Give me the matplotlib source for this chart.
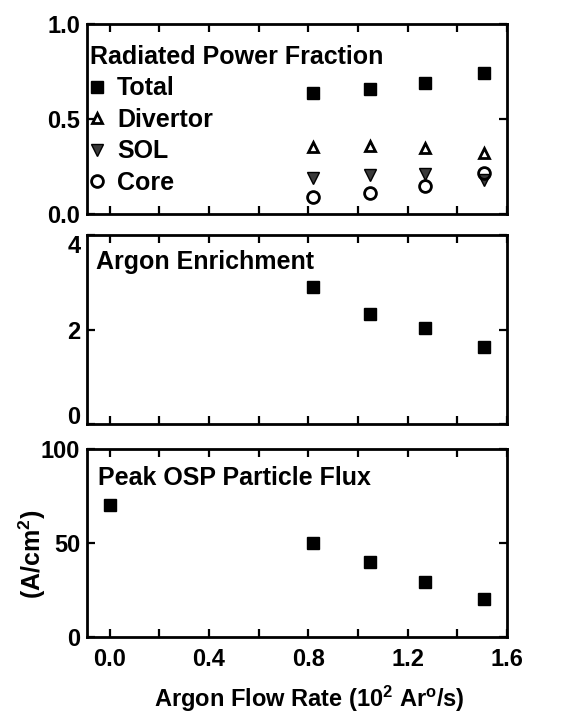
import matplotlib
matplotlib.use("Agg")
import matplotlib.pyplot as plt
from matplotlib.ticker import MultipleLocator, FixedLocator

plt.rcParams['font.family'] = ['Liberation Sans Narrow', 'Liberation Sans', 'DejaVu Sans']
plt.rcParams['font.weight'] = 'bold'
plt.rcParams['mathtext.fontset'] = 'custom'
plt.rcParams['mathtext.rm'] = 'Liberation Sans:bold'
plt.rcParams['mathtext.default'] = 'rm'

# Data
flow_rad = [0.82, 1.05, 1.27, 1.51]
total = [0.635, 0.66, 0.69, 0.74]
divertor = [0.35, 0.36, 0.345, 0.32]
sol = [0.19, 0.205, 0.21, 0.18]
core = [0.09, 0.11, 0.147, 0.217]

flow_enr = [0.82, 1.05, 1.27, 1.51]
enrichment = [2.9, 2.33, 2.04, 1.64]

flow_flux = [0.0, 0.82, 1.05, 1.27, 1.51]
flux = [70, 50, 40, 29.5, 20]

xticks = [0.0, 0.4, 0.8, 1.2, 1.6]
xticklabels = ['0.0', '0.4', '0.8', '1.2', '1.6']

fig = plt.figure(figsize=(5.74, 7.13), dpi=100)
L, W = 0.152, 0.731
ax1 = fig.add_axes([L, 0.6999, W, 0.2664])
ax2 = fig.add_axes([L, 0.4053, W, 0.2651])
ax3 = fig.add_axes([L, 0.1066, W, 0.2637])

FS = 18
TFS = 17

def style(ax, ylim, yticks, ylabels, show_x):
    ax.set_xlim(-0.09, 1.6)
    ax.set_ylim(*ylim)
    ax.xaxis.set_major_locator(FixedLocator(xticks))
    ax.xaxis.set_minor_locator(MultipleLocator(0.2))
    ax.set_yticks(yticks)
    ax.set_yticklabels(ylabels, fontsize=TFS, fontweight='bold')
    if show_x:
        ax.set_xticklabels(xticklabels, fontsize=TFS, fontweight='bold')
    else:
        ax.set_xticklabels([])
    ax.tick_params(which='both', direction='in', top=True, right=True,
                   length=6, width=1.6, pad=5)
    for s in ax.spines.values():
        s.set_linewidth(2)

style(ax1, (0, 1.0), [0, 0.5, 1.0], ['0.0', '0.5', '1.0'], False)
style(ax2, (0, 4), [0, 2, 4], ['0', '2', '4'], False)
style(ax3, (0, 100), [0, 50, 100], ['0', '50', '100'], True)
ax3.tick_params(axis='x', pad=8)

# keep end labels of adjacent panels from colliding
ax2.get_yticklabels()[-1].set_va('top')
ax2.get_yticklabels()[0].set_va('baseline')

ms = 9
ax1.plot(flow_rad, total, 's', color='black', ms=ms, label='Total', clip_on=False)
ax1.plot(flow_rad, divertor, '^', mfc='white', mec='black', mew=2, ms=7.5, label='Divertor', clip_on=False)
ax1.plot(flow_rad, sol, 'v', color='#3a3a3a', mec='black', mew=1, ms=9, label='SOL', clip_on=False)
ax1.plot(flow_rad, core, 'o', mfc='none', mec='black', mew=2, ms=8.5, label='Core', clip_on=False)
leg = ax1.legend(title='Radiated Power Fraction', loc='upper left', frameon=False,
                 prop={'size': FS, 'weight': 'bold'}, title_fontproperties={'size': FS, 'weight': 'bold'},
                 alignment='left', handlelength=0.6, handletextpad=0.5, labelspacing=0.3,
                 borderaxespad=0.0, borderpad=0.3, bbox_to_anchor=(-0.012, 0.93))

ax2.plot(flow_enr, enrichment, 's', color='black', ms=ms)
ax2.text(0.02, 0.92, 'Argon Enrichment', transform=ax2.transAxes, fontsize=FS,
         fontweight='bold', va='top', ha='left')

ax3.plot(flow_flux, flux, 's', color='black', ms=ms)
ax3.text(0.025, 0.91, 'Peak OSP Particle Flux', transform=ax3.transAxes, fontsize=FS,
         fontweight='bold', va='top', ha='left')
ax3.set_ylabel('(A/cm$^2$)', fontsize=FS, fontweight='bold')
ax3.yaxis.set_label_coords(-0.093, 0.44)
ax3.set_xlabel('Argon Flow Rate (10$^2$ Ar$^o$/s)', fontsize=17, fontweight='bold')
ax3.xaxis.set_label_coords(0.53, -0.25)

fig.savefig('out.png', dpi=100)
